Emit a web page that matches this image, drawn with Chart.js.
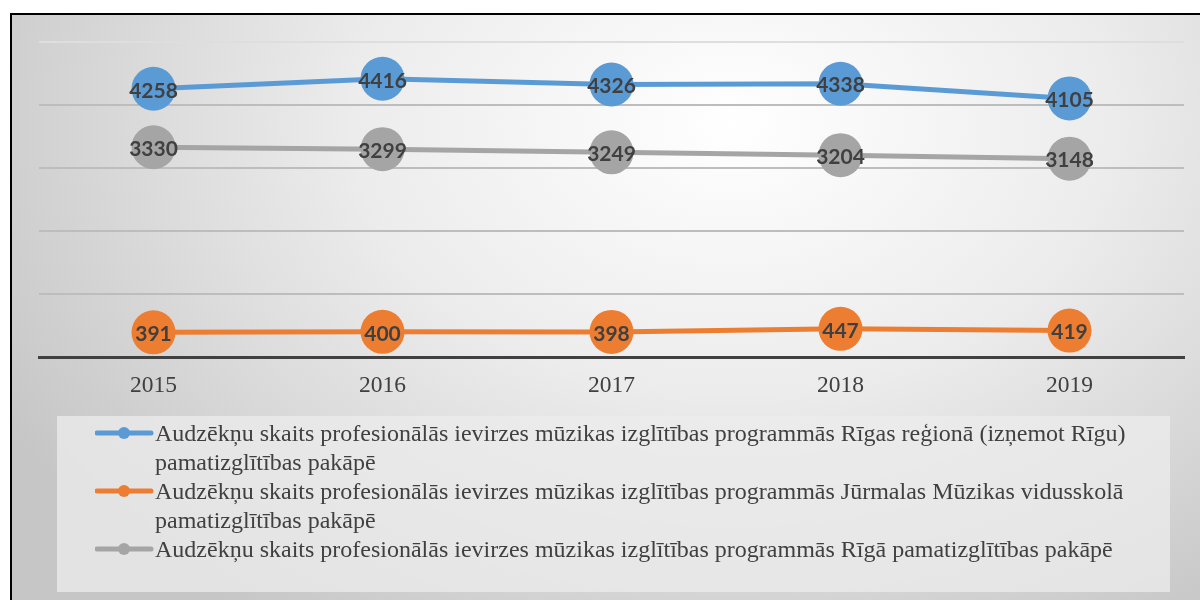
<!DOCTYPE html>
<html>
<head>
<meta charset="utf-8">
<script src="https://cdn.jsdelivr.net/npm/chart.js@4.4.1/dist/chart.umd.min.js"></script>
<style>
    html, body { margin: 0; padding: 0; background: #fff; overflow: hidden; }
    #frame {
        position: absolute; left: 10px; top: 13px; width: 1200px; height: 600px;
        border-left: 2px solid #000; border-top: 2px solid #000;
        background: radial-gradient(ellipse 70% 100% at 60% 18%, #ffffff 0%, #ececec 45%, #c6c6c6 100%);
    }
    #chart-box { position: absolute; left: 0; top: 0; width: 1206px; height: 600px; }
    #legend {
        position: absolute; left: 57px; top: 416px; width: 1113px; height: 176px;
        background: rgba(236, 236, 236, 0.75);
        font-family: "Liberation Serif", "Times New Roman", serif; font-size: 24px; color: #404040;
    }
    .item { position: absolute; left: 38px; }
    .item svg { position: absolute; left: 0; top: 6px; }
    .item .txt { margin-left: 60px; line-height: 29px; white-space: nowrap; }
</style>
</head>
<body>
<div id="frame"></div>
<div id="chart-box"><canvas id="students-line" width="1206" height="600"></canvas></div>
<div id="legend"></div>
<script>
// Audzēkņu skaits pa gadiem
const years = ["2015", "2016", "2017", "2018", "2019"];

const rigaRegion = [4258, 4416, 4326, 4338, 4105];
const jurmala = [391, 400, 398, 447, 419];
const riga = [3330, 3299, 3249, 3204, 3148];

const seriesLabels = [
    ["Audzēkņu skaits profesionālās ievirzes mūzikas izglītības programmās Rīgas reģionā (izņemot Rīgu)", "pamatizglītības pakāpē"],
    ["Audzēkņu skaits profesionālās ievirzes mūzikas izglītības programmās Jūrmalas Mūzikas vidusskolā", "pamatizglītības pakāpē"],
    ["Audzēkņu skaits profesionālās ievirzes mūzikas izglītības programmās Rīgā pamatizglītības pakāpē"],
];
const seriesColors = ["#5b9bd5", "#ed7d31", "#a5a5a5"];

const yTicks = [0, 1000, 2000, 3000, 4000, 5000];

function lineSet(i, values) {
    return {
        label: seriesLabels[i].join(" "),
        data: values,
        borderColor: seriesColors[i],
        backgroundColor: seriesColors[i],
        borderWidth: 5,
        pointRadius: 22,
        pointHoverRadius: 22,
        pointBorderWidth: 0,
        pointBackgroundColor: seriesColors[i],
        tension: 0,
        clip: false,
    };
}

// labels inside the markers
const pointLabels = {
    id: "pointLabels",
    afterDatasetsDraw(chart) {
        const ctx = chart.ctx;
        ctx.save();
        ctx.font = "bold 21px Lato";
        ctx.fillStyle = "#404040";
        ctx.textAlign = "center";
        ctx.textBaseline = "middle";
        chart.data.datasets.forEach((ds, i) => {
            chart.getDatasetMeta(i).data.forEach((pt, j) => {
                ctx.fillText(ds.data[j], pt.x, pt.y + 2);
            });
        });
        ctx.restore();
    }
};

const students_config = {
    type: "line",
    data: {
        labels: years,
        datasets: [
            lineSet(0, rigaRegion),
            lineSet(1, jurmala),
            lineSet(2, riga),
        ]
    },
    options: {
        responsive: false,
        animation: false,
        devicePixelRatio: 1,
        // right side is set by the last tick label (half width ~24px)
        layout: { padding: { left: 39, right: 0, top: 42, bottom: 193 } },
        plugins: { legend: { display: false }, tooltip: { enabled: false } },
        scales: {
            x: {
                offset: true,
                grid: { display: false, drawTicks: false },
                border: { color: "#404040", width: 3 },
                ticks: {
                    color: "#404040",
                    padding: 15,
                    font: { family: "Liberation Serif", size: 23.5 },
                },
                afterFit: (s) => { s.height = 50; },
            },
            y: {
                min: 0,
                max: 5000,
                afterBuildTicks: (s) => { s.ticks = yTicks.map(v => ({ value: v })); },
                ticks: { display: false },
                grid: {
                    drawTicks: false,
                    lineWidth: 2,
                    color: (c) => c.tick && c.tick.value === 5000 ? "#dedede" : "#bdbdbd",
                },
                border: { display: false },
                afterFit: (s) => { s.width = 0; },
            }
        }
    },
    plugins: [pointLabels]
};

var students_chart = new Chart(
    document.getElementById("students-line"),
    students_config
);

// legend
const legendBox = document.getElementById("legend");
let legendTop = 3;
seriesLabels.forEach((lines, i) => {
    const item = document.createElement("div");
    item.className = "item";
    item.style.top = legendTop + "px";
    item.innerHTML =
        '<svg width="60" height="16"><line x1="2" y1="8" x2="56" y2="8" stroke="' + seriesColors[i] +
        '" stroke-width="5" stroke-linecap="round"/><circle cx="29" cy="8" r="6" fill="' + seriesColors[i] + '"/></svg>' +
        '<div class="txt">' + lines.join("<br>") + "</div>";
    legendBox.appendChild(item);
    legendTop += lines.length * 29;
});
</script>
</body>
</html>
